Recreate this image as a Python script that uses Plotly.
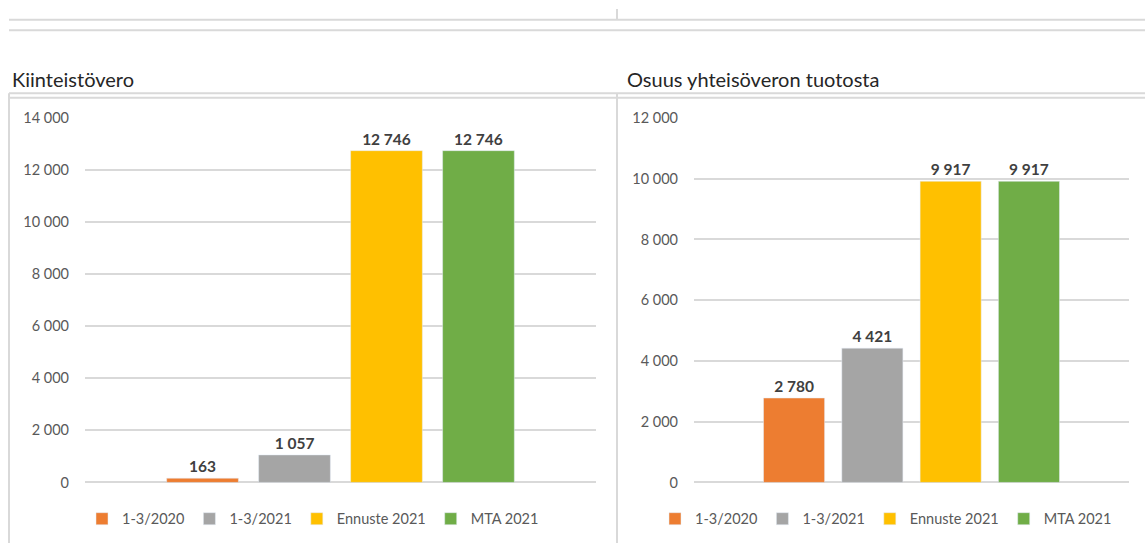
import plotly.graph_objects as go

series = ["1-3/2020", "1-3/2021", "Ennuste 2021", "MTA 2021"]
colors = ["#ED7D31", "#A5A5A5", "#FFC000", "#70AD47"]
kiinteistovero = [163, 1057, 12746, 12746]
yhteisovero = [2780, 4421, 9917, 9917]
titles = ["Kiinteistövero", "Osuus yhteisöveron tuotosta"]
left_ticks = [0, 2000, 4000, 6000, 8000, 10000, 12000, 14000]
right_ticks = [0, 2000, 4000, 6000, 8000, 10000, 12000]

W, H = 1145, 551
FONT = "Lato, 'Open Sans', sans-serif"

def px(x):
    return x / W

def py(y):
    return (H - y) / H

fig = go.Figure()
for i, name in enumerate(series):
    fig.add_trace(go.Bar(
        x=[0], y=[kiinteistovero[i]], name=name, marker_color=colors[i],
        xaxis="x", yaxis="y", legend="legend",
        texttemplate="%{y:,d}", textposition="outside", cliponaxis=False,
        textfont=dict(family=FONT, size=15.5, color="#404040", weight="bold"),
        hoverinfo="skip",
    ))
for i, name in enumerate(series):
    fig.add_trace(go.Bar(
        x=[0], y=[yhteisovero[i]], name=name, marker_color=colors[i],
        xaxis="x2", yaxis="y2", legend="legend2",
        texttemplate="%{y:,d}", textposition="outside", cliponaxis=False,
        textfont=dict(family=FONT, size=15.5, color="#404040", weight="bold"),
        hoverinfo="skip",
    ))

ydom = [py(488.5), py(112.5)]
axis_common = dict(showgrid=True, gridcolor="#D9D9D9", gridwidth=1.5, zeroline=True,
                   zerolinecolor="#D9D9D9", zerolinewidth=1.5, showline=False,
                   tickformat=",d", tickfont=dict(family=FONT, size=14.5, color="#595959"),
                   ticks="", ticklabelstandoff=15)

shapes = []
line = dict(color="#D9D9D9", width=2)
for (x0, y0, x1, y1) in [(9, 11, W, 11), (9, 22, W, 22), (617, 0, 617, 11),
                          (9, 87, W, 87), (9, 91.5, W, 91.5),
                          (9, 87, 9, H), (617, 87, 617, H)]:
    shapes.append(dict(type="line", xref="paper", yref="paper",
                       x0=px(x0), y0=py(y0), x1=px(x1), y1=py(y1), line=line))

fig.update_layout(
    width=W, height=H, margin=dict(l=0, r=0, t=0, b=0),
    paper_bgcolor="white", plot_bgcolor="white",
    separators=", ",
    barmode="group", bargap=0.28, bargroupgap=0.22,
    xaxis=dict(domain=[px(85), px(596)], range=[-0.5, 0.5], visible=False),
    xaxis2=dict(domain=[px(694), px(1129)], range=[-0.5, 0.5], visible=False),
    yaxis=dict(domain=ydom, range=[0, 14000], tickvals=left_ticks, anchor="x", **axis_common),
    yaxis2=dict(domain=ydom, range=[0, 12000], tickvals=right_ticks, anchor="x2", **axis_common),
    legend=dict(orientation="h", x=px(313), xanchor="center", y=py(526), yanchor="middle",
                font=dict(family=FONT, size=14.5, color="#595959"), itemclick=False,
                itemwidth=30, tracegroupgap=0),
    legend2=dict(orientation="h", x=px(886), xanchor="center", y=py(526), yanchor="middle",
                 font=dict(family=FONT, size=14.5, color="#595959"), itemclick=False,
                 itemwidth=30, tracegroupgap=0),
    shapes=shapes,
    annotations=[
        dict(text=titles[0], xref="paper", yref="paper", x=px(10), y=py(72),
             xanchor="left", yanchor="middle", showarrow=False,
             font=dict(family=FONT, size=20, color="#262626")),
        dict(text=titles[1], xref="paper", yref="paper", x=px(625), y=py(72),
             xanchor="left", yanchor="middle", showarrow=False,
             font=dict(family=FONT, size=20, color="#262626")),
    ],
)

fig.write_html("out.html", config={"displayModeBar": False},
               post_script="document.body.style.margin='0';")
